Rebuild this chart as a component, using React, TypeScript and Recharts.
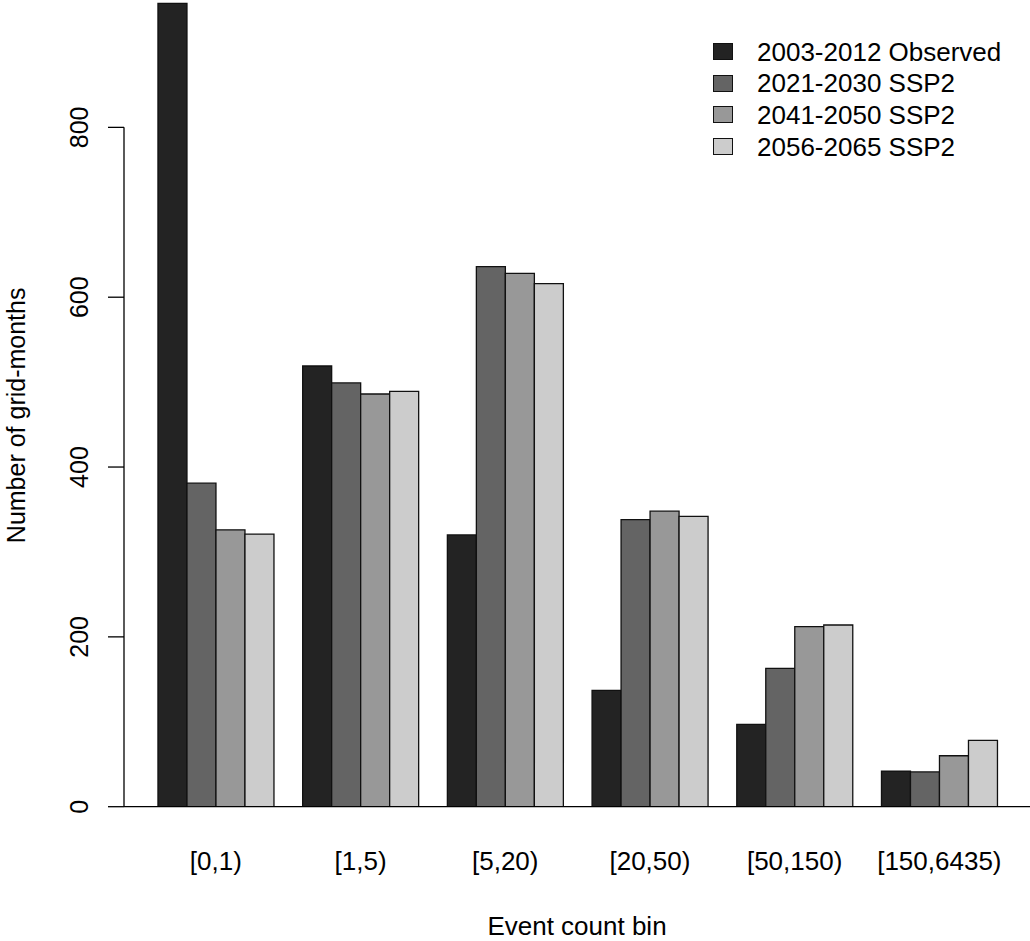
import React from "react"
import { Bar, BarChart, XAxis, YAxis, Legend } from "recharts"

const bins = ["[0,1)", "[1,5)", "[5,20)", "[20,50)", "[50,150)", "[150,6435)"]
const observed = [946, 519, 320, 137, 97, 42]
const ssp2021 = [381, 499, 636, 338, 163, 41]
const ssp2041 = [326, 486, 628, 348, 212, 60]
const ssp2056 = [321, 489, 616, 342, 214, 78]

const seriesNames = ["2003-2012 Observed", "2021-2030 SSP2", "2041-2050 SSP2", "2056-2065 SSP2"]
const seriesKeys = ["observed", "ssp2021", "ssp2041", "ssp2056"]
const seriesColors = ["#232323", "#646464", "#989898", "#cccccc"]
const yTicks = [0, 200, 400, 600, 800]

const data = bins.map((bin, i) => ({
  bin,
  observed: observed[i],
  ssp2021: ssp2021[i],
  ssp2041: ssp2041[i],
  ssp2056: ssp2056[i],
}))

const W = 1030
const H = 941
const X_AXIS_H = 134.3
const PLOT_H = H - X_AXIS_H
const Y_MAX = 950
const FONT = '"Liberation Sans", Arial, Helvetica, sans-serif'

function XTick(props: any) {
  const { x, y, payload } = props
  return (
    <text x={x} y={y + 63} textAnchor="middle" fontSize={26} fill="#000" fontFamily={FONT}>
      {payload.value}
    </text>
  )
}

function YTick(props: any) {
  const { x, y, payload } = props
  const lx = x - 36
  return (
    <g>
      <line x1={x - 16} x2={x} y1={y} y2={y} stroke="#000" strokeWidth={1.3} />
      {payload.value === 0 && (
        <line x1={x} x2={x} y1={y} y2={y - (800 * PLOT_H) / Y_MAX} stroke="#000" strokeWidth={1.3} />
      )}
      <text x={lx} y={y} transform={`rotate(-90, ${lx}, ${y})`} textAnchor="middle" fontSize={25} fill="#000" fontFamily={FONT}>
        {payload.value}
      </text>
    </g>
  )
}

function YLabel(props: any) {
  const vb = props.viewBox
  const x = vb.x + 25
  const y = vb.y + vb.height / 2 + 12
  return (
    <text x={x} y={y} transform={`rotate(-90, ${x}, ${y})`} textAnchor="middle" fontSize={25} fill="#000" fontFamily={FONT}>
      Number of grid-months
    </text>
  )
}

function XLabel(props: any) {
  const vb = props.viewBox
  return (
    <text x={vb.x + vb.width / 2} y={vb.y + 128} textAnchor="middle" fontSize={26} fill="#000" fontFamily={FONT}>
      Event count bin
    </text>
  )
}

function LegendBox() {
  return (
    <div style={{ fontFamily: FONT }}>
      {seriesNames.map((name, i) => (
        <div key={name} style={{ display: "flex", alignItems: "center", height: 31.7, lineHeight: "31.7px" }}>
          <span
            style={{
              display: "inline-block",
              width: 18,
              height: 15,
              background: seriesColors[i],
              border: "1px solid #111",
              marginRight: 24,
              marginTop: -2,
            }}
          />
          <span style={{ fontSize: 26, color: "#000", whiteSpace: "nowrap" }}>{name}</span>
        </div>
      ))}
    </div>
  )
}

export default function App() {
  return (
    <div style={{ position: "absolute", left: 0, top: 0, width: W, height: H, background: "#fff", fontFamily: FONT }}>
      <BarChart width={W} height={H} data={data} margin={{ top: 0, right: 0, bottom: 0, left: 0 }} barCategoryGap="10%" barGap={0}>
        <XAxis
          dataKey="bin"
          height={X_AXIS_H}
          padding={{ left: 19.5, right: 18.3 }}
          tickLine={false}
          tickSize={0}
          tickMargin={0}
          axisLine={{ stroke: "#000", strokeWidth: 1.3 }}
          tick={<XTick />}
          interval={0}
          label={<XLabel />}
        />
        <YAxis
          width={124}
          domain={[0, Y_MAX]}
          ticks={yTicks}
          allowDataOverflow
          axisLine={false}
          tickLine={false}
          tickSize={0}
          tickMargin={0}
          tick={<YTick />}
          label={<YLabel />}
        />
        <Legend
          layout="vertical"
          align="center"
          verticalAlign="middle"
          wrapperStyle={{ position: "absolute", left: 713, top: 36.6, width: 300 }}
          content={() => <LegendBox />}
        />
        {seriesKeys.map((key, i) => (
          <Bar
            key={key}
            dataKey={key}
            name={seriesNames[i]}
            fill={seriesColors[i]}
            stroke="#111"
            strokeWidth={1.3}
            isAnimationActive={false}
          />
        ))}
      </BarChart>
    </div>
  )
}
